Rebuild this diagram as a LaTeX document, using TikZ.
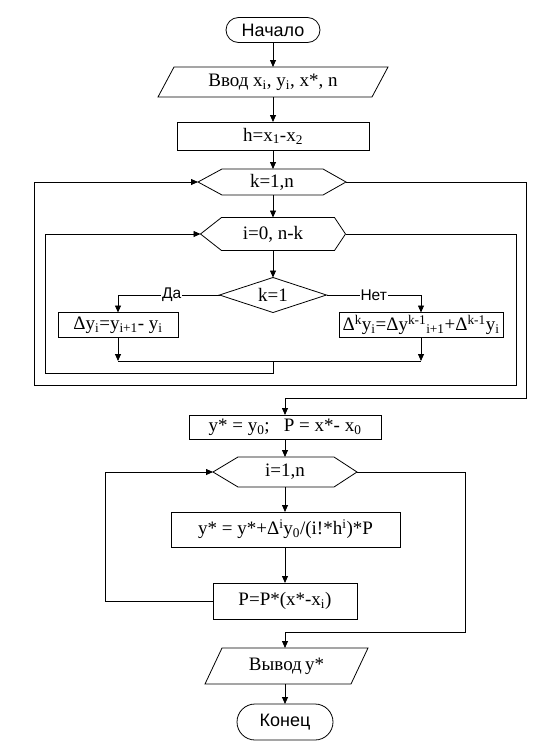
\documentclass[tikz,border=0pt]{standalone}
\usepackage{fontspec}
\setmainfont{Liberation Serif}
\newfontfamily\sansf{Liberation Sans}
\usetikzlibrary{arrows.meta}
\begin{document}
\begin{tikzpicture}[x=1pt,y=-1pt,
  every node/.style={inner sep=0pt,outer sep=0pt},
  ln/.style={line width=0.8pt,draw=black},
  arr/.style={ln,-{Triangle[length=7pt,width=6pt]}},
  txt/.style={font=\fontsize{19}{22}\selectfont},
  lbl/.style={font=\sansf\fontsize{15.5}{18}\selectfont,fill=white,inner xsep=1pt},
  term/.style={draw,line width=0.8pt,rounded corners=#1,font=\sansf\fontsize{18}{21}\selectfont},
  boxn/.style={draw,line width=0.8pt,txt},
  bare/.style={txt}
]
\useasboundingbox (0,0) rectangle (558,753);
\fill[white] (0,0) rectangle (558,753);

% upper column
\node[term=12.5pt,minimum width=94pt,minimum height=25pt] (start) at (273,30) {Начало};
\node[bare,minimum width=230pt,minimum height=30pt] (in) at (273,82) {Ввод x\textsubscript{i}, y\textsubscript{i}, x*, n};
\draw[ln] ([xshift=16]in.north west) -- (in.north east) -- ([xshift=-16]in.south east) -- (in.south west) -- cycle;
\node[boxn,minimum width=192pt,minimum height=28pt] (h) at (273,136) {h=x\textsubscript{1}-x\textsubscript{2}};
\node[bare,minimum width=148pt,minimum height=26pt] (kh) at (272,182) {k=1,n};
\draw[ln] (kh.west) -- ([xshift=24]kh.north west) -- ([xshift=-23]kh.north east) -- (kh.east) -- ([xshift=-23]kh.south east) -- ([xshift=24]kh.south west) -- cycle;
\node[bare,minimum width=145pt,minimum height=33pt] (ih) at (273,234) {i=0, n-k};
\draw[ln] (ih.west) -- ([xshift=21]ih.north west) -- ([xshift=-11]ih.north east) -- (ih.east) -- ([xshift=-11]ih.south east) -- ([xshift=21]ih.south west) -- cycle;
\node[bare,minimum width=107pt,minimum height=35pt] (dm) at (273,295) {k=1};
\draw[ln] (dm.west) -- (dm.north) -- (dm.east) -- (dm.south) -- cycle;
\node[boxn,minimum width=120pt,minimum height=25pt] (ba) at (118,325) {Δy\textsubscript{i}=y\textsubscript{i+1}- y\textsubscript{i}};
\node[boxn,minimum width=164pt,minimum height=25pt] (bb) at (421,325) {Δ\textsuperscript{k}y\textsubscript{i}=Δy\textsuperscript{k-1}\textsubscript{i+1}+Δ\textsuperscript{k-1}y\textsubscript{i}};

\coordinate (ml) at (118,361);
\coordinate (mr) at (421,361);
\coordinate (mm) at (273,361);

\draw[arr] (start) -- (in);
\draw[arr] (in.south -| h.north) -- (h.north);
\draw[arr] (h.south) -- (h.south |- kh.north);
\draw[arr] (h.south |- kh.south) -- (h.south |- ih.north);
\draw[arr] (h.south |- ih.south) -- (dm.north);
\draw[arr] (dm.west) -- node[lbl,pos=0.47]{Да} (ba.north |- dm.west) -- (ba.north);
\draw[arr] (dm.east) -- node[lbl,pos=0.5]{Нет} (bb.north |- dm.east) -- (bb.north);
\draw[arr] (ba.south) -- (ml);
\draw[arr] (bb.south) -- (mr);
\draw[ln] (ml) -- (mr);
% inner loop return
\draw[arr] (mm) -- (273,373) -- (45,373) -- (45,234) -- (ih.west);
% outer loop return
\draw[arr] (ih.east) -- (516,234) -- (516,385) -- (34,385) -- (34,182) -- (kh.west);

% lower column
\node[boxn,minimum width=192pt,minimum height=24pt] (ys) at (285,427) {y* = y\textsubscript{0};\ \ \ P = x*- x\textsubscript{0}};
\draw[arr] (kh.east) -- (526,182) -- (526,398) -- (285,398) -- (ys.north);
\node[bare,minimum width=144pt,minimum height=30pt] (ih2) at (285,472) {i=1,n};
\draw[ln] (ih2.west) -- ([xshift=25]ih2.north west) -- ([xshift=-23]ih2.north east) -- (ih2.east) -- ([xshift=-23]ih2.south east) -- ([xshift=25]ih2.south west) -- cycle;
\node[boxn,minimum width=229pt,minimum height=35pt] (yu) at (285.5,529.5) {y* = y*+Δ\textsuperscript{i}y\textsubscript{0}/(i!*h\textsuperscript{i})*P};
\node[boxn,minimum width=144pt,minimum height=36pt] (pp) at (285,601) {P=P*(x*-x\textsubscript{i})};
\node[bare,minimum width=163pt,minimum height=36pt] (out) at (286.5,666) {Вывод\,y*};
\draw[ln] ([xshift=17]out.north west) -- (out.north east) -- ([xshift=-17]out.south east) -- (out.south west) -- cycle;
\node[term=18pt,minimum width=96pt,minimum height=36pt] (end) at (285,722) {Конец};

\draw[arr] (ys.south) -- (ys.south |- ih2.north);
\draw[arr] (ys.south |- ih2.south) -- (ys.south |- yu.north);
\draw[arr] (ys.south |- yu.south) -- (pp.north);
\draw[arr] (pp.west) -- (105,601) -- (105,472) -- (ih2.west);
\draw[arr] (ih2.east) -- (465,472) -- (465,632) -- (285,632) -- (285,648);
\draw[arr] (285,684) -- (end.north);
\end{tikzpicture}
\end{document}
